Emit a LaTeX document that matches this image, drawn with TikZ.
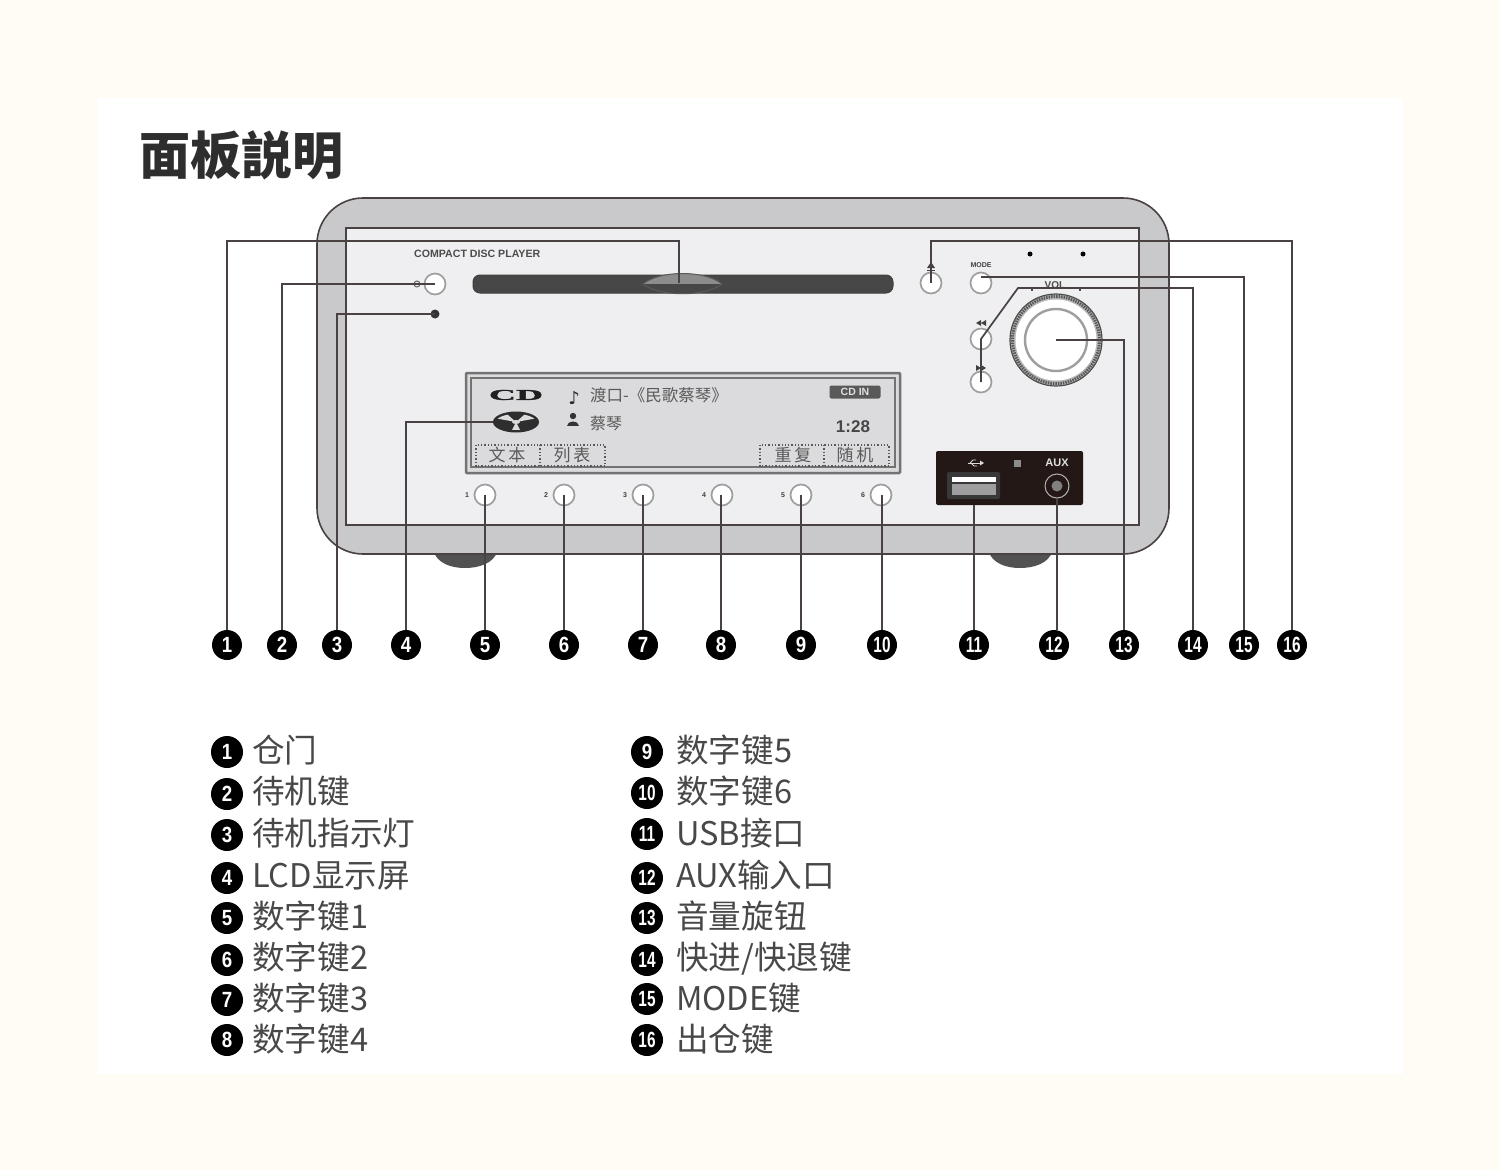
\documentclass[tikz,border=0pt]{standalone}
\usepackage{fontspec}
\usetikzlibrary{shapes.geometric}
\setmainfont{Noto Sans CJK SC}
\newfontfamily\lat{Liberation Sans}
\newfontfamily\latser[FakeBold=1.5]{Liberation Serif}
\newfontfamily\dejavu{DejaVu Sans}
\definecolor{cream}{HTML}{FFFCF5}
\definecolor{inkline}{HTML}{4A4242}
\definecolor{bodygrey}{HTML}{C9C9CB}
\definecolor{panelgrey}{HTML}{EFEEF0}
\definecolor{lcdgrey}{HTML}{DBDADC}
\definecolor{portdark}{HTML}{231815}
\definecolor{legendtext}{HTML}{484848}
\definecolor{lcdtext}{HTML}{5A5A5A}
\tikzset{
  leader/.style={draw=inkline,line width=1.7pt,line join=miter},
  badge/.style={circle,fill=black,text=white,inner sep=0pt,minimum size=30pt,font=\lat\bfseries\fontsize{22}{22}\selectfont},
  lbadge/.style={badge,minimum size=32pt},
  btn/.style={circle,draw=black!38,fill=white,line width=1.7pt,inner sep=0pt,minimum size=21pt},
  tiny/.style={inner sep=0pt,text=black!75,font=\lat\bfseries\fontsize{7}{7}\selectfont},
  legend/.style={anchor=west,inner sep=0pt,text=legendtext,text height=28pt,text depth=4pt,font=\fontsize{32.6}{34}\selectfont},
  lcdcjk/.style={anchor=west,inner sep=0pt,text=lcdtext,font=\fontsize{16.5}{17}\selectfont},
  softkey/.style={inner sep=0pt,text=lcdtext,font=\fontsize{17}{18}\selectfont},
  softbox/.style={draw=black!65,line width=1.3pt,dotted}
}
\newcommand{\bnum}[1]{\ifnum#1>9 \scalebox{.7}[1]{#1}\else \scalebox{.85}[1]{#1}\fi}
\begin{document}
\begin{tikzpicture}[x=1pt,y=-1pt]
\useasboundingbox (0,0) rectangle (1500,1170);
\fill[cream] (0,0) rectangle (1500,1170);
\fill[white] (98,98) rectangle (1403,1074);
\node[anchor=west,inner sep=0pt,text=black!82,font=\bfseries\fontsize{51}{53}\selectfont] (title) at (139,155) {面板説明};

% feet
\fill[black!68] (433,550) -- (498,550) .. controls (494,564) and (478,568) .. (465,568) .. controls (452,568) and (437,564) .. (433,550) -- cycle;
\fill[black!68] (988,550) -- (1053,550) .. controls (1049,564) and (1033,568) .. (1020,568) .. controls (1007,568) and (992,564) .. (988,550) -- cycle;
% cabinet
\draw[draw=inkline,fill=bodygrey,line width=1.6pt,rounded corners=46pt] (317,198) rectangle (1169,554);
\draw[draw=inkline,fill=panelgrey,line width=1.7pt] (346,228) rectangle (1139,525);

\node[anchor=west,inner sep=0pt,text=black!70,font=\lat\bfseries\fontsize{10.6}{11}\selectfont] (brand) at (414,254) {COMPACT DISC PLAYER};

% disc slot
\draw[draw=black!75,fill=black!72,line width=1pt,rounded corners=7pt] (473,275) rectangle (893,293);
\fill[black!30] (643,284) .. controls (660,270) and (705,270) .. (722,284) .. controls (705,297) and (660,297) .. (643,284) -- cycle;
\begin{scope}
  \clip (643,284) .. controls (660,270) and (705,270) .. (722,284) .. controls (705,297) and (660,297) .. (643,284) -- cycle;
  \fill[black!45] (640,270) rectangle (725,284);
  \fill[black!72] (640,284) rectangle (725,293);
\end{scope}
\draw[draw=black!65,line width=1pt] (643,284) .. controls (660,270) and (705,270) .. (722,284) .. controls (705,297) and (660,297) .. (643,284) -- cycle;
\coordinate (slot) at (679,283);

% power
\node[circle,draw=black!60,line width=1pt,minimum size=6pt,inner sep=0pt] (pled) at (417,284) {};
\node[btn] (pbtn) at (435,284) {};
\node[circle,fill=black!80,inner sep=0pt,minimum size=9pt] (sled) at (435,314) {};

% LCD
\draw[draw=black!55,fill=lcdgrey,line width=2.5pt,rounded corners=1pt] (466,373) rectangle (900,473);
\draw[draw=black!55,line width=1.2pt] (471,378) rectangle (895,467);
\node[inner sep=0pt,text=black!88,font=\latser\bfseries\fontsize{15}{15}\selectfont] (cdlogo) at (516,395) {\scalebox{2.5}[1]{CD}};
\node[ellipse,fill=black!82,minimum width=46pt,minimum height=21pt,inner sep=0pt] (disc) at (516,422) {};
\begin{scope}
  \clip (516,422) ellipse [x radius=20,y radius=8];
  \fill[lcdgrey] (516,422) -- (494,418) -- (500,408) -- cycle;
  \fill[lcdgrey] (516,422) -- (538,418) -- (532,408) -- cycle;
  \fill[lcdgrey] (516,422) -- (509,436) -- (523,436) -- cycle;
  \fill[lcdgrey] (516,422) ellipse [x radius=4,y radius=2];
\end{scope}
\node[inner sep=0pt,text=black!85,font=\dejavu\fontsize{18}{18}\selectfont] (note) at (574,398) {♪};
\fill[black!80] (573,416) circle [radius=3.2];
\fill[black!80] (567,426) .. controls (567,420) and (579,420) .. (579,426) -- cycle;
\node[lcdcjk] (song) at (590,395) {渡口-《民歌蔡琴》};
\node[lcdcjk,font=\fontsize{16}{17}\selectfont] (singer) at (590,423) {蔡琴};
\node[fill=black!65,rounded corners=2pt,minimum width=51pt,minimum height=13pt,inner sep=0pt,text=white!88!black,font=\lat\bfseries\fontsize{10.5}{10.5}\selectfont] (cdin) at (855,392) {CD IN};
\node[inner sep=0pt,text=black!72,font=\lat\bfseries\fontsize{17}{17}\selectfont] (time) at (853,427) {1:28};
\draw[softbox] (476,445) rectangle (605,466);
\draw[softbox] (540,445) -- (540,466);
\draw[softbox] (760,445) rectangle (889,466);
\draw[softbox] (824,445) -- (824,466);
\node[softkey] (k1) at (507,455) {文\,本};
\node[softkey] (k2) at (572,455) {列\,表};
\node[softkey] (k3) at (793,455) {重\,复};
\node[softkey] (k4) at (855,455) {随\,机};

% number keys
\foreach \i/\x in {1/485,2/564,3/643,4/722,5/801,6/881}{
  \node[btn] (key\i) at (\x,495) {};
  \node[tiny] (keylabel\i) at (\x-18,495) {\i};
}

% right controls
\node[btn] (eject) at (931,283) {};
\fill[black!75] (927,268) -- (931,262) -- (935,268) -- cycle;
\fill[black!75] (927,269.5) rectangle (935,271);
\node[btn] (mode) at (981,283) {};
\node[tiny] (modelabel) at (981,265) {MODE};
\node[circle,fill=black,inner sep=0pt,minimum size=5pt] (dotl) at (1030,254) {};
\node[circle,fill=black,inner sep=0pt,minimum size=5pt] (dotr) at (1083,254) {};
\node[btn] (prev) at (981,339) {};
\node[btn] (next) at (981,382) {};
\fill[black!75] (981,320) -- (976,323) -- (981,326) -- cycle (986,320) -- (981,323) -- (986,326) -- cycle;
\fill[black!75] (976,365) -- (981,368) -- (976,371) -- cycle (981,365) -- (986,368) -- (981,371) -- cycle;
\node[inner sep=0pt,text=black!70,font=\lat\bfseries\fontsize{10}{10}\selectfont] (vol) at (1055,285) {VOL};
\fill[black!70] (1030.5,288) rectangle (1032.5,291);
\fill[black!70] (1079,288) rectangle (1081,291);

% knob
\draw[draw=black!70,fill=black!28,line width=1.2pt] (1056,340) circle [radius=46];
\draw[draw=black!65,line width=3pt,dash pattern=on 1.5pt off 1pt] (1056,340) circle [radius=43.5];
\fill[white] (1056,340) circle [radius=40.5];
\node[circle,draw=black!38,fill=white,line width=2.4pt,inner sep=0pt,minimum size=62pt] (knob) at (1056,340) {};

% ports
\fill[portdark,rounded corners=2pt] (936,451) rectangle (1083,505);
\coordinate (usbb) at (974,505);
\draw[white!85!black,line width=1pt] (968,463) -- (980,463);
\fill[white!85!black] (980,460.5) -- (984,463) -- (980,465.5) -- cycle;
\draw[white!85!black,line width=.8pt] (970,463) -- (973,460) -- (976,460);
\draw[white!85!black,line width=.8pt] (971,463) -- (974,466) -- (977,466);
\node[fill=black!45,inner sep=0pt,minimum size=7pt] (led2) at (1017,463) {};
\node[inner sep=0pt,text=white!88!black,font=\lat\bfseries\fontsize{11}{11}\selectfont] (aux) at (1057,463) {AUX};
\fill[black!78,rounded corners=2pt] (947,472) rectangle (1000,499);
\fill[white] (952,477) rectangle (996,481.5);
\fill[black!38] (952,484) rectangle (996,495);
\node[circle,draw=black!30,fill=portdark,line width=1pt,inner sep=0pt,minimum size=24pt] (jack) at (1057,486) {};
\fill[black!50] (1057,486) circle [radius=5.5];

% callout badges
\foreach \i/\x in {1/227,2/282,3/337,4/406,5/485,6/564,7/643,8/721,9/801,10/882,11/974,12/1054,13/1124,14/1193,15/1244,16/1292}{
  \node[badge] (b\i) at (\x,645) {\bnum{\i}};
}

% bend coordinates
\coordinate (t1) at (679,241);
\coordinate (t16) at (931,241);
\coordinate (t15) at (981,277);
\coordinate (t14) at (1018,288);
\coordinate (mid14) at (981,339);

% leaders
\draw[leader] (b1.north) |- (t1) -- (slot);
\draw[leader] (b2.north) |- (pbtn.center);
\draw[leader] (b3.north) |- (sled.center);
\draw[leader] (b4.north) |- (disc.west);
\draw[leader] (b5.north) -- (key1.center);
\draw[leader] (b6.north) -- (key2.center);
\draw[leader] (b7.north) -- (key3.center);
\draw[leader] (b8.north) -- (b8.north |- key4.center);
\draw[leader] (b9.north) -- (key5.center);
\draw[leader] (b10.north) -- (b10.north |- key6.center);
\draw[leader] (b11.north) -- (usbb);
\draw[leader] (jack.south) -- (jack.south |- b12.north);
\draw[leader] (b13.north) |- (knob.center);
\draw[leader] (b14.north) |- (t14) -- (mid14) -- (next.center);
\draw[leader] (b15.north) |- (t15);
\draw[leader] (b16.north) |- (t16) -- (eject.center);

% legend
\foreach \i/\yb/\yt/\txt in {1/752/750/仓门,2/794/791/待机键,3/835/833/待机指示灯,4/878/875/LCD显示屏,5/918/916/数字键1,6/960/957/数字键2,7/1000/998/数字键3,8/1040/1039/数字键4}{
  \node[lbadge] (lb\i) at (227,\yb) {\bnum{\i}};
  \node[legend] (lt\i) at (252,\yt) {\txt};
}
\foreach \i/\yb/\yt/\txt in {9/752/750/数字键5,10/793/791/数字键6,11/834/833/USB接口,12/878/875/AUX输入口,13/918/916/音量旋钮,14/960/957/{快进/快退键},15/999/998/MODE键,16/1040/1039/出仓键}{
  \node[lbadge] (lb\i) at (647,\yb) {\bnum{\i}};
  \node[legend] (lt\i) at (676,\yt) {\txt};
}
\end{tikzpicture}
\end{document}
